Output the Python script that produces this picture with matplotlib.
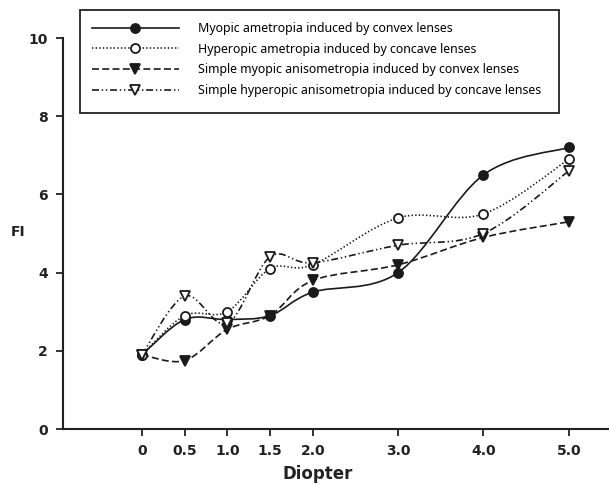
import matplotlib
matplotlib.use("Agg")
import matplotlib.pyplot as plt
from matplotlib.path import Path
from matplotlib.patches import PathPatch, Rectangle
from matplotlib.lines import Line2D
import numpy as np

plt.rcParams['lines.scale_dashes'] = False

diopter = [0, 0.5, 1.0, 1.5, 2.0, 3.0, 4.0, 5.0]
tick_labels = ["0", "0.5", "1.0", "1.5", "2.0", "3.0", "4.0", "5.0"]

myopic_convex = [1.9, 2.8, 2.8, 2.9, 3.5, 4.0, 6.5, 7.2]
hyperopic_concave = [1.9, 2.9, 3.0, 4.1, 4.2, 5.4, 5.5, 6.9]
aniso_myopic_convex = [1.9, 1.75, 2.55, 2.9, 3.8, 4.2, 4.9, 5.3]
aniso_hyperopic_concave = [1.9, 3.4, 2.7, 4.4, 4.25, 4.7, 5.0, 6.6]

labels = ["Myopic ametropia induced by convex lenses",
          "Hyperopic ametropia induced by concave lenses",
          "Simple myopic anisometropia induced by convex lenses",
          "Simple hyperopic anisometropia induced by concave lenses"]

col = "#1a1a1a"
styles = [
    dict(ls="-", marker="o", mfc=col),
    dict(ls=(0, (1.0, 1.6)), marker="o", mfc="white"),
    dict(ls=(0, (5.0, 2.4)), marker="v", mfc=col),
    dict(ls=(0, (5.0, 2.0, 1.0, 2.0, 1.0, 2.0)), marker="v", mfc="white"),
]
series = [myopic_convex, hyperopic_concave, aniso_myopic_convex, aniso_hyperopic_concave]

W, H = 609, 486
fig = plt.figure(figsize=(W / 100, H / 100), dpi=100)
ax_l, ax_b, ax_w, ax_h = 63, 57, 546, 391
ax = fig.add_axes([ax_l / W, ax_b / H, ax_w / W, ax_h / H])

def px2ax(x, y):
    return (x - ax_l) / ax_w, ((H - y) - ax_b) / ax_h

def smooth_path(xs, ys):
    P = np.column_stack([xs, ys]).astype(float)
    n = len(P)
    verts = [P[0]]
    codes = [Path.MOVETO]
    for i in range(n - 1):
        p0 = P[i - 1] if i > 0 else P[i]
        p1 = P[i]
        p2 = P[i + 1]
        p3 = P[i + 2] if i + 2 < n else P[i + 1]
        c1 = p1 + (p2 - p0) / 6.0
        c2 = p2 - (p3 - p1) / 6.0
        verts += [c1, c2, p2]
        codes += [Path.CURVE4] * 3
    return Path(verts, codes)

handles = []
for ys, st in zip(series, styles):
    patch = PathPatch(smooth_path(diopter, ys), facecolor="none", edgecolor=col,
                      lw=1.2, linestyle=st["ls"], zorder=2)
    ax.add_patch(patch)
    ax.plot(diopter, ys, ls="none", marker=st["marker"], ms=6.5, mfc=st["mfc"],
            mec=col, mew=1.3, zorder=3)
    handles.append(Line2D([], [], color=col, lw=1.2, ls=st["ls"], marker=st["marker"],
                          ms=6.5, mfc=st["mfc"], mec=col, mew=1.3))

ax.set_xlim(-0.925, 5.47)
ax.set_ylim(0, 10)
ax.set_xticks(diopter)
ax.set_xticklabels(tick_labels)
ax.set_yticks([0, 2, 4, 6, 8, 10])
for s in ["top", "right"]:
    ax.spines[s].set_visible(False)
for s in ["left", "bottom"]:
    ax.spines[s].set_linewidth(1.5)
    ax.spines[s].set_color("#222222")
ax.tick_params(axis="both", direction="out", length=5, width=1.3, color="#222222",
               labelsize=10, pad=6)
for t in ax.get_xticklabels() + ax.get_yticklabels():
    t.set_fontweight("bold")
    t.set_family("DejaVu Sans")
    t.set_color("#222222")

fig.text(18 / W, 1 - 232 / H, "FI", ha="center", va="center", fontsize=10,
         fontweight="bold", color="#222222")
fig.text(318 / W, 1 - 474 / H, "Diopter", ha="center", va="center", fontsize=12,
         fontweight="bold", color="#222222")

# legend box
bx0, by0 = px2ax(80, 113)
bx1, by1 = px2ax(559, 10)
ax.add_patch(Rectangle((bx0, by0), bx1 - bx0, by1 - by0, transform=ax.transAxes,
                       facecolor="white", edgecolor="#222222", lw=1.3,
                       clip_on=False, zorder=4))

leg = ax.legend(handles, labels, loc="upper left",
                bbox_to_anchor=px2ax(92, 22),
                prop={"family": "Noto Sans", "size": 8.9},
                handlelength=7.0, handletextpad=1.55, labelspacing=0.62,
                borderpad=0.0, borderaxespad=0.0, frameon=False)
leg.set_zorder(5)

fig.savefig("out.png", dpi=100)
